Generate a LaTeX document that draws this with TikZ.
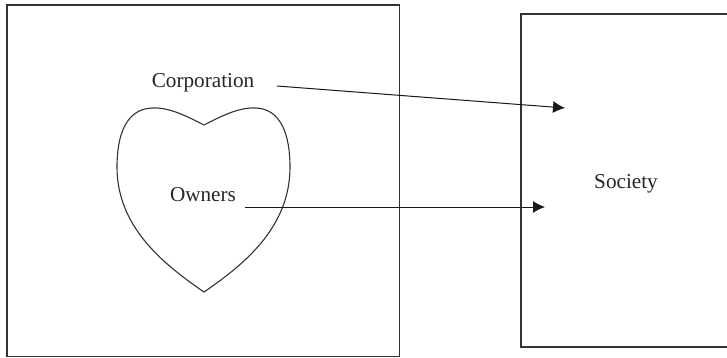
\documentclass[tikz,border=0pt]{standalone}
\usepackage{fontspec}
\setmainfont{Liberation Serif}
\usetikzlibrary{arrows.meta}
\begin{document}
\begin{tikzpicture}[x=0.5pt,y=-0.5pt,
  frame/.style={draw=black!80,line width=0.55pt},
  lbl/.style={font=\fontsize{10.6}{12}\selectfont,text=black!85,anchor=base,inner sep=0pt},
  conn/.style={draw=black!90,line width=0.5pt,-{Latex[length=6pt,width=6pt]}}]
\useasboundingbox (0,0) rectangle (727,358);
\clip (0,0) rectangle (727,358);
\fill[white] (0,0) rectangle (727,358);
% boxes
\draw[frame] (7,5) rectangle (399.5,356.5);
\draw[frame] (521,14) rectangle (740,347);
% heart
\draw[frame] (204,125) .. controls (188,117) and (170,107) .. (152,108)
  .. controls (126,109) and (117,135) .. (117,167)
  .. controls (117,225) and (160,262) .. (204,292)
  .. controls (248,262) and (290,225) .. (290,167)
  .. controls (290,135) and (281,109) .. (256,108)
  .. controls (238,107) and (220,117) .. (204,125) -- cycle;
% labels
\node[lbl] (corp) at (203,88) {Corporation};
\node[lbl] (own) at (203,201) {Owners};
\node[lbl] (soc) at (626,188) {Society};
% connectors
\coordinate (cs) at (277,86);
\coordinate (ce) at (565,108);
\coordinate (os) at (245,207);
\coordinate (oe) at (545,207);
\draw[conn] (cs) -- (ce);
\draw[conn] (os) -- (oe);
\end{tikzpicture}
\end{document}
